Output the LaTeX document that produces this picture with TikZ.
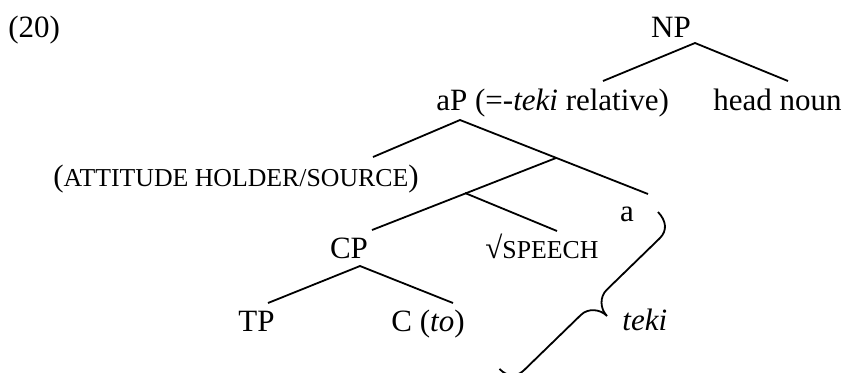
\documentclass[tikz,border=0pt]{standalone}
\usepackage{fontspec}
\setmainfont{Liberation Serif}
\begin{document}
\begin{tikzpicture}[x=0.5pt,y=-0.5pt,
  lbl/.style={inner sep=0pt,font=\fontsize{15.5pt}{18pt}\selectfont},
  branch/.style={line width=0.9pt,line cap=butt},
  bracepath/.style={line width=0.9pt}]
\newcommand{\smcp}[1]{{\fontsize{12.9pt}{15pt}\selectfont #1}}
\useasboundingbox (0,0) rectangle (846,372);
% texts
\node[lbl,anchor=base west] (ex) at (8,37) {(20)};
\node[lbl,anchor=base] (np) at (671,37) {NP};
\node[lbl,anchor=base west] (ap) at (436,110) {aP (=-\textit{teki} relative)};
\node[lbl,anchor=base west] (hn) at (713,110) {head noun};
\node[lbl,anchor=base west] (ah) at (53,186) {(\smcp{ATTITUDE HOLDER/SOURCE})};
\node[lbl,anchor=base] (a) at (627,221) {a};
\node[lbl,anchor=base] (cp) at (349,258) {CP};
\node[lbl,anchor=base west] (sp) at (485,258) {√\smcp{SPEECH}};
\node[lbl,anchor=base west] (tp) at (238,331) {TP};
\node[lbl,anchor=base west] (c) at (391,331) {C (\textit{to})};
\node[lbl,anchor=base west] (teki) at (622,330) {\textit{teki}};
% branch points
\coordinate (np-v) at (695,43);
\coordinate (np-l) at (603,81);
\coordinate (np-r) at (788,81);
\coordinate (ap-v) at (460,120);
\coordinate (ap-l) at (373,157);
\coordinate (ap-r) at (648,194);
\coordinate (j1) at (556,158);
\coordinate (j1-l) at (372,230);
\coordinate (j2) at (465,193);
\coordinate (j2-r) at (557,231);
\coordinate (cp-v) at (360,266);
\coordinate (cp-l) at (268,303);
\coordinate (cp-r) at (453,303);
% branches
\draw[branch] (np-l) -- (np-v) -- (np-r);
\draw[branch] (ap-l) -- (ap-v) -- (ap-r);
\draw[branch] (j1) -- (j1-l);
\draw[branch] (j2) -- (j2-r);
\draw[branch] (cp-l) -- (cp-v) -- (cp-r);
% brace
\coordinate (br-top) at (658,212);
\coordinate (br-tip) at (607,316);
\coordinate (br-bot) at (499.5,368.9);
\draw[bracepath] (br-top)
  .. controls (666.3,220.7) and (667.6,230.6) .. (659.7,238.3)
  -- (606.7,289.8)
  .. controls (599.5,296.8) and (600,308.8) .. (br-tip)
  .. controls (600,308.8) and (588,308) .. (580.9,314.9)
  -- (524.2,370.0)
  .. controls (516.3,377.7) and (507.1,376.8) .. (br-bot);
\end{tikzpicture}
\end{document}
